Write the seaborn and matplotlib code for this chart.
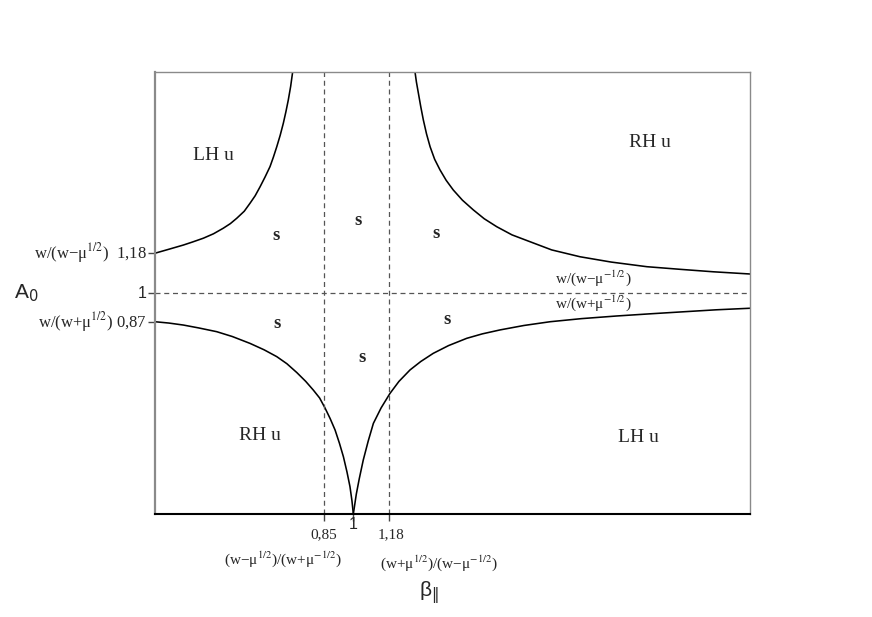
import matplotlib
matplotlib.use("Agg")
import matplotlib.pyplot as plt
import matplotlib.transforms as mtrans
import seaborn as sns
import pandas as pd

sns.set_theme(style="white")
plt.rcParams['font.family'] = ['Liberation Serif', 'DejaVu Serif']
plt.rcParams['mathtext.fontset'] = 'stix'

# ---- data (beta_parallel, A0) ----
ul_beta = [0.0, 0.07, 0.143, 0.19, 0.244, 0.295, 0.344, 0.38, 0.412, 0.45, 0.479, 0.505,
           0.530, 0.555, 0.580, 0.597, 0.614, 0.631, 0.647, 0.660, 0.672, 0.684, 0.694]
ul_A = [1.18, 1.198, 1.217, 1.231, 1.248, 1.268, 1.293, 1.314, 1.338, 1.37, 1.406, 1.44,
        1.481, 1.525, 1.572, 1.615, 1.662, 1.713, 1.768, 1.82, 1.873, 1.935, 2.0]

ll_beta = [0.0, 0.07, 0.143, 0.22, 0.311, 0.39, 0.479, 0.55, 0.614, 0.665, 0.715, 0.76,
           0.798, 0.83, 0.857, 0.883, 0.908, 0.93, 0.950, 0.968, 0.983, 0.993, 1.0]
ll_A = [0.87, 0.864, 0.855, 0.842, 0.825, 0.803, 0.772, 0.743, 0.712, 0.68, 0.640, 0.60,
        0.561, 0.525, 0.48, 0.432, 0.380, 0.32, 0.259, 0.19, 0.124, 0.06, 0.0]

lr_beta = [1.0, 1.015, 1.03, 1.050, 1.075, 1.101, 1.14, 1.185, 1.23, 1.286, 1.34, 1.403,
           1.48, 1.572, 1.65, 1.740, 1.86, 1.992, 2.15, 2.328, 2.5, 2.664, 2.83, 3.0]
lr_A = [0.0, 0.09, 0.16, 0.244, 0.33, 0.410, 0.48, 0.546, 0.60, 0.652, 0.69, 0.727,
        0.762, 0.795, 0.815, 0.833, 0.853, 0.870, 0.884, 0.896, 0.906, 0.915, 0.924, 0.931]

ur_beta = [1.311, 1.318, 1.328, 1.34, 1.353, 1.369, 1.387, 1.41, 1.437, 1.468, 1.504,
           1.55, 1.605, 1.66, 1.723, 1.80, 1.891, 2.0, 2.143, 2.3, 2.480, 2.65, 2.815, 3.0]
ur_A = [2.0, 1.955, 1.904, 1.843, 1.783, 1.72, 1.662, 1.605, 1.557, 1.51, 1.466,
        1.42, 1.376, 1.336, 1.300, 1.263, 1.232, 1.195, 1.164, 1.14, 1.119, 1.107, 1.096, 1.086]

beta_ticks = [0.85, 1.0, 1.18]
beta_tick_labels = ["0,85", "1", "1,18"]
A_ticks = [0.87, 1.0, 1.18]
A_tick_labels = ["0,87", "1", "1,18"]

region_labels = ["LH u", "RH u", "RH u", "LH u", "s", "s", "s", "s", "s", "s"]
region_beta = [0.293, 2.496, 0.53, 2.436, 0.61, 1.024, 1.417, 0.615, 1.044, 1.472]
region_A = [1.624, 1.679, 0.353, 0.348, 1.258, 1.33, 1.267, 0.86, 0.706, 0.882]

curves = pd.concat([
    pd.DataFrame({"beta": ul_beta, "A": ul_A, "curve": "ul"}),
    pd.DataFrame({"beta": ll_beta, "A": ll_A, "curve": "ll"}),
    pd.DataFrame({"beta": lr_beta, "A": lr_A, "curve": "lr"}),
    pd.DataFrame({"beta": ur_beta, "A": ur_A, "curve": "ur"}),
])

fig = plt.figure(figsize=(8.72, 6.17), dpi=100)
ax = fig.add_axes([155/872, 103/617, 595/872, 442/617])

for name, grp in curves.groupby("curve", sort=False):
    sns.lineplot(data=grp, x="beta", y="A", sort=False, estimator=None,
                 color="black", lw=1.15, ax=ax, legend=False)

ax.set_xlim(0, 3)
ax.set_ylim(0, 2)

dash = dict(color="#555555", lw=0.9, dashes=(4, 3))
ax.axhline(1.0, **dash)
for b in [0.85, 1.18]:
    ax.axvline(b, **dash)

for sp in ["top", "right"]:
    ax.spines[sp].set_color("#8a8a8a")
    ax.spines[sp].set_linewidth(1.0)
ax.spines["left"].set_color("#8a8a8a")
ax.spines["left"].set_linewidth(1.6)
ax.spines["bottom"].set_color("black")
ax.spines["bottom"].set_linewidth(1.5)

ax.set_xticks(beta_ticks)
ax.set_xticklabels([])
ax.set_yticks(A_ticks)
ax.set_yticklabels([])
ax.tick_params(axis="both", which="both", direction="out", length=5, width=1,
               color="#444444", bottom=True, left=True)
ax.set_xlabel("")
ax.set_ylabel("")

# region labels
for t, b, a in zip(region_labels, region_beta, region_A):
    if "u" in t:
        ax.text(b, a, t, ha="center", va="center", fontsize=14)
    else:
        ax.text(b, a, t, ha="center", va="center", fontsize=13.5, fontweight="bold")

# curve labels on the right
ax.text(2.209, 1.068, "w/(w\u2212\u03bc$^{-1/2}$)", ha="center", va="center", fontsize=11)
ax.text(2.209, 0.955, "w/(w+\u03bc$^{-1/2}$)", ha="center", va="center", fontsize=11)

# y tick labels
ytr = mtrans.blended_transform_factory(ax.transAxes, ax.transData)
px = 1/595
ax.text(-8*px, 1.18, "w/(w\u2212\u03bc$^{1/2}$)  " + A_tick_labels[2], transform=ytr,
        ha="right", va="center", fontsize=12)
ax.text(-8*px, 1.0, A_tick_labels[1], transform=ytr, ha="right", va="center",
        fontsize=11.5, family="Liberation Sans")
ax.text(-8*px, 0.87, "w/(w+\u03bc$^{1/2}$) " + A_tick_labels[0], transform=ytr,
        ha="right", va="center", fontsize=12)
ax.text(-129*px, 1.0, "A$_0$", transform=ytr, ha="center", va="center",
        fontsize=15, family="Liberation Sans", math_fontfamily="dejavusans")

# x tick labels
xtr = mtrans.blended_transform_factory(ax.transData, ax.transAxes)
py = 1/442
ax.text(0.85, -14*py, beta_tick_labels[0], transform=xtr, ha="center", va="top", fontsize=11)
ax.text(1.0, -3*py, beta_tick_labels[1], transform=xtr, ha="center", va="top",
        fontsize=11.5, family="Liberation Sans")
ax.text(1.19, -14*py, beta_tick_labels[2], transform=xtr, ha="center", va="top", fontsize=11)
ax.text(0.645, -35*py, "(w\u2212\u03bc$^{1/2}$)/(w+\u03bc$^{-1/2}$)", transform=xtr,
        ha="center", va="top", fontsize=11)
ax.text(1.43, -39*py, "(w+\u03bc$^{1/2}$)/(w\u2212\u03bc$^{-1/2}$)", transform=xtr,
        ha="center", va="top", fontsize=11)
ax.text(1.38, -79*py, "\u03b2$_{\\Vert}$", transform=xtr, ha="center", va="center",
        fontsize=15, family="Liberation Sans", math_fontfamily="dejavusans")

fig.savefig("out.png", dpi=100, facecolor="white")
